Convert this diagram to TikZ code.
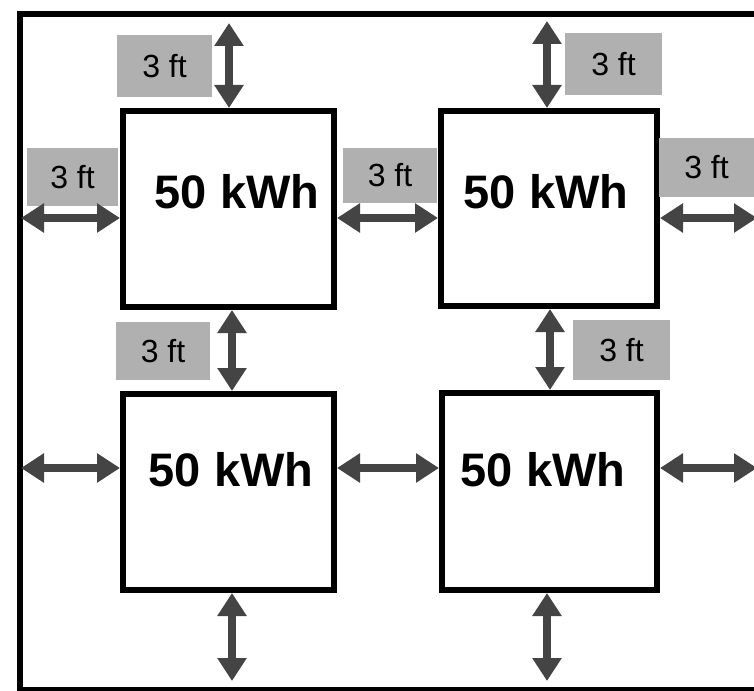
\documentclass[tikz,border=0pt]{standalone}
\usepackage{fontspec}
\setmainfont{Liberation Sans}
\usetikzlibrary{arrows.meta}
\definecolor{lblgray}{HTML}{B0B0B0}
\definecolor{arrgray}{HTML}{444444}
\tikzset{
  unitbox/.style={draw=black, line width=6pt, fill=white, inner sep=0pt},
  kwh/.style={font=\fontsize{47}{47}\selectfont\bfseries, inner sep=0pt},
  ftlabel/.style={fill=lblgray, inner sep=0pt, font=\fontsize{32}{32}\selectfont},
  dimarrow/.style={draw=arrgray, line width=8pt,
    {Triangle[width=28pt,length=23pt]}-{Triangle[width=28pt,length=23pt]}},
}
\begin{document}
\begin{tikzpicture}[x=1pt,y=-1pt]
\clip (0,0) rectangle (754,690);
\fill[white] (0,0) rectangle (754,690);
% outer frame
\draw[line width=6pt] (20,14) rectangle (790,690);
% boxes
\node[unitbox, minimum width=211pt, minimum height=196pt] (tl) at (228.5,209) {};
\node[unitbox, minimum width=216pt, minimum height=195pt] (tr) at (549,208.5) {};
\node[unitbox, minimum width=211pt, minimum height=196pt] (bl) at (228.5,492) {};
\node[unitbox, minimum width=215pt, minimum height=197pt] (br) at (549.5,491.5) {};
% box texts
\node[kwh] (ttl) at (237,192) {50 kWh};
\node[kwh] (ttr) at (546,192) {50 kWh};
\node[kwh] (tbl) at (231,470) {50 kWh};
\node[kwh] (tbr) at (543,470) {50 kWh};
% labels
\node[ftlabel, minimum width=95pt, minimum height=62pt] (l1) at (164.5,66) {3 ft};
\node[ftlabel, minimum width=91pt, minimum height=58pt] (l2) at (72.5,177) {3 ft};
\node[ftlabel, minimum width=94pt, minimum height=55pt] (l3) at (390,175.5) {3 ft};
\node[ftlabel, minimum width=95pt, minimum height=59pt] (l4) at (706.5,167.5) {3 ft};
\node[ftlabel, minimum width=97pt, minimum height=62pt] (l5) at (613.5,64) {3 ft};
\node[ftlabel, minimum width=94pt, minimum height=58pt] (l6) at (163,351) {3 ft};
\node[ftlabel, minimum width=97pt, minimum height=60pt] (l7) at (621.5,350) {3 ft};
% free arrow ends and arrow rows
\coordinate (a1) at (229,23);
\coordinate (a5) at (547,21);
\coordinate (a8) at (232,681);
\coordinate (a9) at (547,681);
\coordinate (a2) at (21,218);
\coordinate (a4) at (757,218);
\coordinate (a10) at (21,468);
\coordinate (a12) at (757,468);
\coordinate (row1) at (0,218);
\coordinate (row2) at (0,468);
\coordinate (col1) at (232,0);
\coordinate (col2) at (550,0);
% arrows
\draw[dimarrow] (a1) -- (a1 |- tl.north);
\draw[dimarrow] (a5) -- (a5 |- tr.north);
\draw[dimarrow] (col1 |- tl.south) -- (col1 |- bl.north);
\draw[dimarrow] (col2 |- tr.south) -- (col2 |- br.north);
\draw[dimarrow] (a8 |- bl.south) -- (a8);
\draw[dimarrow] (a9 |- br.south) -- (a9);
\draw[dimarrow] (a2) -- (tl.west |- a2);
\draw[dimarrow] (tl.east |- row1) -- (tr.west |- row1);
\draw[dimarrow] (tr.east |- a4) -- (a4);
\draw[dimarrow] (a10) -- (bl.west |- a10);
\draw[dimarrow] (bl.east |- row2) -- (br.west |- row2);
\draw[dimarrow] (br.east |- a12) -- (a12);
\end{tikzpicture}
\end{document}
